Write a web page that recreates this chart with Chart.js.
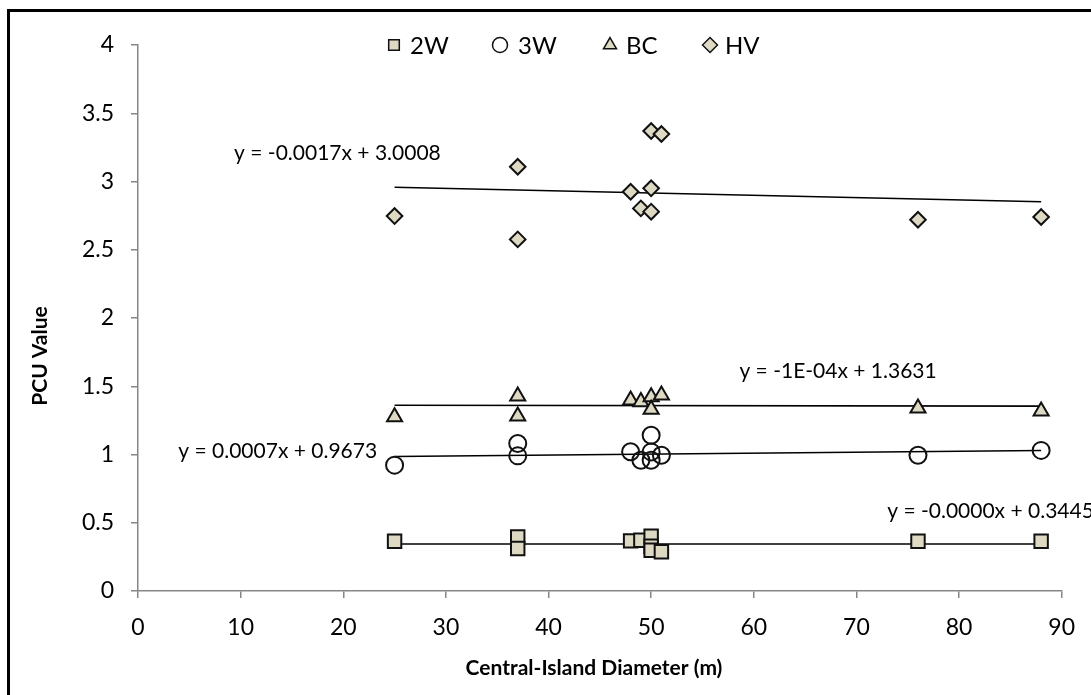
<!DOCTYPE html>
<html>
<head>
<meta charset="utf-8">
<script src="https://cdn.jsdelivr.net/npm/chart.js@4/dist/chart.umd.min.js"></script>
<style>
  html, body { margin: 0; padding: 0; background: #fff; }
  #wrap { position: relative; width: 1091px; height: 695px; overflow: hidden; }
  #frame { position: absolute; left: 7px; top: 9px; width: 1200px; height: 800px;
           border-left: 3px solid #000; border-top: 3px solid #000; }
  #cv { position: absolute; left: 0; top: 0; }
</style>
</head>
<body>
<div id="wrap">
  <div id="frame"></div>
  <canvas id="cv" width="1091" height="695"></canvas>
</div>
<script>
// 資料
const diam2W = [25, 37, 37, 48, 49, 50, 50, 50, 51, 76, 88];
const pcu2W  = [0.364, 0.396, 0.311, 0.367, 0.372, 0.401, 0.328, 0.298, 0.288, 0.364, 0.364];
const diam3W = [25, 37, 37, 48, 49, 50, 50, 50, 51, 76, 88];
const pcu3W  = [0.922, 1.081, 0.990, 1.020, 0.958, 1.141, 1.019, 0.958, 0.995, 0.995, 1.030];
const diamBC = [25, 37, 37, 48, 49, 50, 50, 51, 76, 88];
const pcuBC  = [1.276, 1.427, 1.281, 1.398, 1.386, 1.422, 1.330, 1.435, 1.340, 1.317];
const diamHV = [25, 37, 37, 48, 49, 50, 50, 50, 51, 76, 88];
const pcuHV  = [2.747, 3.108, 2.576, 2.925, 2.803, 3.370, 2.950, 2.779, 3.348, 2.720, 2.740];

// 趨勢線兩端 (x = 25, 88)
const trendX  = [25, 88];
const trend2W = [0.3445, 0.3445];
const trend3W = [0.9848, 1.0289];
const trendBC = [1.3606, 1.3543];
const trendHV = [2.9583, 2.8512];

const seriesNames = ['2W', '3W', 'BC', 'HV'];
const equations = ['y = -0.0000x + 0.3445', 'y = 0.0007x + 0.9673', 'y = -1E-04x + 1.3631', 'y = -0.0017x + 3.0008'];
// 方程式標籤位置（資料座標）
const eqPos = [
  { x: 73.0, y: 0.584, align: 'left' },
  { x: 23.3, y: 1.024, align: 'right' },
  { x: 58.6, y: 1.611, align: 'left' },
  { x: 29.5, y: 3.209, align: 'right' }
];
const xTicks = [0, 10, 20, 30, 40, 50, 60, 70, 80, 90];
const yTicks = [0, 0.5, 1, 1.5, 2, 2.5, 3, 3.5, 4];

const FONT = 'Lato, "Noto Sans", sans-serif';
const TAN = '#ddd9c3';
const toPts = (xs, ys) => xs.map((x, i) => ({ x, y: ys[i] }));

const markerStyle = [
  { pointStyle: 'rect', radius: 9.5, fill: TAN },
  { pointStyle: 'circle', radius: 8.5, fill: 'rgba(0,0,0,0)' },
  { pointStyle: 'triangle', radius: 8.7, fill: TAN },
  { pointStyle: 'rectRot', radius: 7.8, fill: TAN }
];
const pointSets = [toPts(diam2W, pcu2W), toPts(diam3W, pcu3W), toPts(diamBC, pcuBC), toPts(diamHV, pcuHV)];
const trendSets = [trend2W, trend3W, trendBC, trendHV].map(t => toPts(trendX, t));

const datasets = [];
pointSets.forEach((pts, i) => {
  const m = markerStyle[i];
  datasets.push({
    label: seriesNames[i], data: pts, order: 1,
    pointStyle: m.pointStyle, pointRadius: m.radius, pointHoverRadius: m.radius,
    backgroundColor: m.fill, borderColor: '#111', pointBorderWidth: 2, showLine: false
  });
});
trendSets.forEach((pts, i) => {
  datasets.push({
    label: 'trend ' + seriesNames[i], data: pts, order: 2, showLine: true,
    borderColor: '#000', borderWidth: 1.6, pointRadius: 0, fill: false
  });
});

// 圖例、軸標題與方程式文字
const extras = {
  id: 'extras',
  afterDatasetsDraw(chart) {
    const ctx = chart.ctx, xs = chart.scales.x, ys = chart.scales.y;
    ctx.save();
    ctx.fillStyle = '#000';
    ctx.font = '21px ' + FONT;
    ctx.textBaseline = 'middle';
    equations.forEach((eq, i) => {
      const p = eqPos[i];
      ctx.textAlign = p.align;
      ctx.fillText(eq, xs.getPixelForValue(p.x), ys.getPixelForValue(p.y));
    });
    // legend
    const legendMark = [394, 500, 610, 710];
    const legendText = [410, 518, 626, 725];
    ctx.font = '24px ' + FONT;
    ctx.textAlign = 'left';
    seriesNames.forEach((name, i) => {
      const m = markerStyle[i];
      ctx.fillStyle = m.fill;
      ctx.strokeStyle = '#111';
      ctx.lineWidth = 1.5;
      Chart.helpers.drawPoint(ctx, { pointStyle: m.pointStyle, radius: 7.5, rotation: 0, borderWidth: 1.5 }, legendMark[i], 45);
      ctx.fillStyle = '#000';
      ctx.fillText(name, legendText[i], 46);
    });
    // axis titles
    ctx.font = 'bold 21px ' + FONT;
    ctx.textAlign = 'center';
    ctx.fillText('Central-Island Diameter (m)', 594, 668);
    ctx.translate(40, 356);
    ctx.rotate(-Math.PI / 2);
    ctx.fillText('PCU Value', 0, 0);
    ctx.restore();
  }
};

new Chart(document.getElementById('cv'), {
  type: 'scatter',
  data: { datasets },
  plugins: [extras],
  options: {
    responsive: false,
    animation: false,
    layout: { padding: { top: 45, right: 29, left: 0, bottom: 0 } },
    plugins: { legend: { display: false }, tooltip: { enabled: false } },
    scales: {
      x: {
        type: 'linear', min: 0, max: 90,
        afterFit: s => { s.height = 104; },
        afterBuildTicks: s => { s.ticks = xTicks.map(v => ({ value: v })); },
        border: { color: '#868686', width: 1.5 },
        grid: { drawOnChartArea: false, drawTicks: true, tickLength: 7, color: '#868686', lineWidth: 1.5 },
        ticks: { color: '#000', font: { family: FONT, size: 23 }, padding: 16, maxRotation: 0,
                 callback: v => String(v) }
      },
      y: {
        type: 'linear', min: 0, max: 4,
        afterFit: s => { s.width = 138; },
        afterBuildTicks: s => { s.ticks = yTicks.map(v => ({ value: v })); },
        border: { color: '#868686', width: 1.5 },
        grid: { drawOnChartArea: false, drawTicks: true, tickLength: 7, color: '#868686', lineWidth: 1.5 },
        ticks: { color: '#000', font: { family: FONT, size: 23 }, padding: 17,
                 callback: v => String(v) }
      }
    }
  }
});
</script>
</body>
</html>
